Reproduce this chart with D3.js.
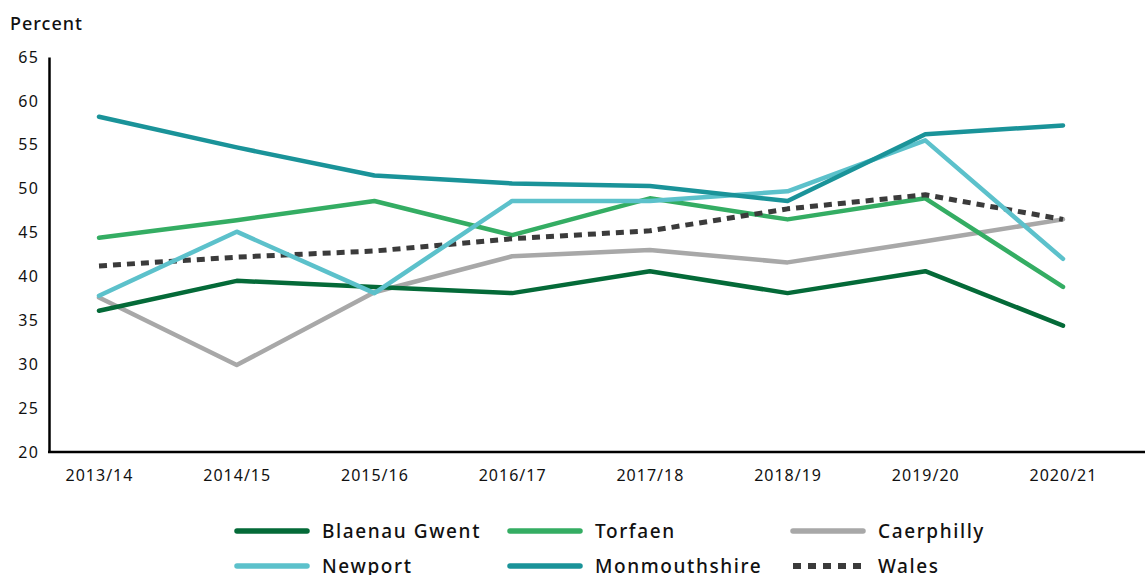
<!DOCTYPE html>
<html><head><meta charset="utf-8">
<script src="https://cdn.jsdelivr.net/npm/d3@7"></script>
<style>
body{margin:0;background:#fff;}
svg{display:block;font-family:"Noto Sans",sans-serif;}
</style></head>
<body><svg id="c" width="1145" height="575"></svg>
<script>
const categories = ["2013/14","2014/15","2015/16","2016/17","2017/18","2018/19","2019/20","2020/21"];
const blaenauGwent = [36.1,39.5,38.8,38.1,40.6,38.1,40.6,34.4];
const torfaen = [44.4,46.4,48.6,44.7,48.9,46.5,48.9,38.8];
const caerphilly = [37.6,29.9,38.2,42.3,43.0,41.6,44.0,46.5];
const newport = [37.8,45.1,38.1,48.6,48.6,49.7,55.5,42.0];
const monmouthshire = [58.2,54.7,51.5,50.6,50.3,48.6,56.2,57.2];
const wales = [41.2,42.2,42.9,44.3,45.2,47.7,49.3,46.5];
const yTicks = [20,25,30,35,40,45,50,55,60,65];

const series = [
  {name:"Blaenau Gwent", values:blaenauGwent, color:"#046a38", dash:null},
  {name:"Torfaen", values:torfaen, color:"#34ad63", dash:null},
  {name:"Caerphilly", values:caerphilly, color:"#a8a8a8", dash:null},
  {name:"Newport", values:newport, color:"#5cc1cb", dash:null},
  {name:"Monmouthshire", values:monmouthshire, color:"#1a9399", dash:null},
  {name:"Wales", values:wales, color:"#3b3b3b", dash:"8,6"}
];

const svg = d3.select("#c");
const mLeft = 49, mTop = 57, mBottom = 452, mRight = 1145;
const x = d3.scalePoint().domain(categories).range([99,1063]);
const y = d3.scaleLinear().domain([20,65]).range([mBottom, mTop]);

const yAxis = svg.append("g").attr("transform",`translate(${mLeft},0)`)
  .call(d3.axisLeft(y).tickValues(yTicks).tickSize(0).tickPadding(10));
yAxis.attr("font-family",null).attr("font-size",null);
yAxis.select(".domain").attr("stroke","#000").attr("stroke-width",2.5);
yAxis.selectAll("text").attr("font-size",16).attr("letter-spacing",1.2).attr("fill","#111");

const xAxis = svg.append("g").attr("transform",`translate(0,${mBottom})`)
  .call(d3.axisBottom(x).tickSize(0).tickPadding(18));
xAxis.attr("font-family",null).attr("font-size",null);
xAxis.select(".domain").remove();
xAxis.selectAll("text").attr("font-size",16).attr("letter-spacing",1).attr("fill","#111");
svg.append("line").attr("x1",mLeft-1).attr("x2",mRight).attr("y1",mBottom).attr("y2",mBottom)
  .attr("stroke","#000").attr("stroke-width",2.5);

svg.append("text").attr("x",10).attr("y",30).text("Percent")
  .attr("font-size",18).attr("font-weight",500).attr("letter-spacing",1).attr("fill","#111");

const line = d3.line().x((d,i)=>x(categories[i])).y(d=>y(d));
const order = ["Caerphilly","Blaenau Gwent","Torfaen","Wales","Newport","Monmouthshire"];
series.slice().sort((a,b)=>order.indexOf(a.name)-order.indexOf(b.name)).forEach(s=>{
  svg.append("path").datum(s.values).attr("d",line)
    .attr("fill","none").attr("stroke",s.color).attr("stroke-width",s.dash?5:4.5)
    .attr("stroke-linecap",s.dash?"butt":"round").attr("stroke-linejoin","round")
    .attr("stroke-dasharray",s.dash);
});

const legX = [237,510,793], legY = [531,566];
series.forEach((s,i)=>{
  const lx = legX[i%3], ly = legY[Math.floor(i/3)];
  svg.append("line").attr("x1",lx).attr("x2",lx+70).attr("y1",ly).attr("y2",ly)
    .attr("stroke",s.color).attr("stroke-width",s.dash?6:5.5)
    .attr("stroke-linecap",s.dash?"butt":"round")
    .attr("stroke-dasharray",s.dash?"8,7":null);
  svg.append("text").attr("x",lx+85).attr("y",ly).attr("dy","0.35em")
    .attr("font-size",19).attr("font-weight",500).attr("letter-spacing",1.6)
    .attr("fill","#111").text(s.name);
});
</script></body></html>
